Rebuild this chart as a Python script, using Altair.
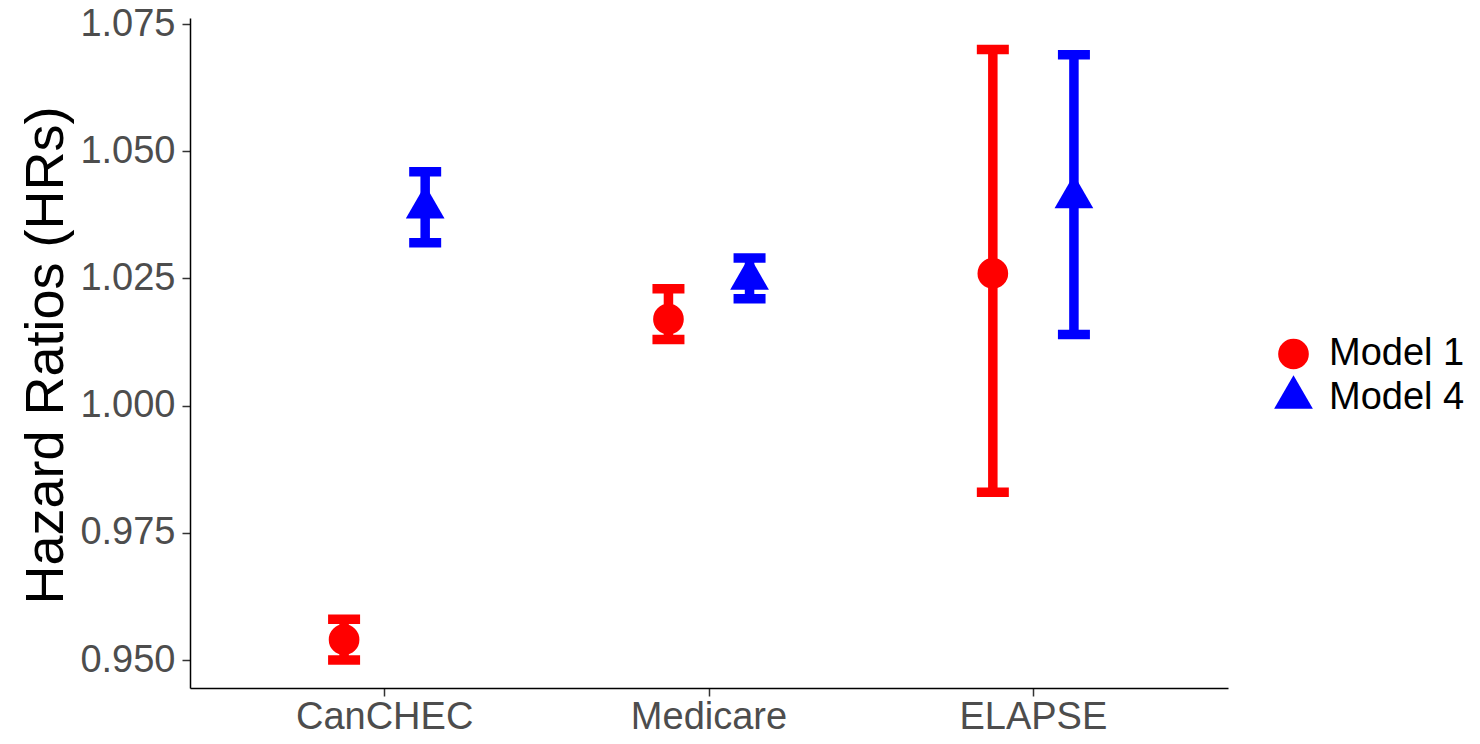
import altair as alt
import pandas as pd

# ---- data ----
studies = ["CanCHEC", "CanCHEC", "Medicare", "Medicare", "ELAPSE", "ELAPSE"]
models = ["Model 1", "Model 4", "Model 1", "Model 4", "Model 1", "Model 4"]
hr = [0.954, 1.039, 1.017, 1.025, 1.026, 1.041]
lower = [0.950, 1.032, 1.013, 1.021, 0.983, 1.014]
upper = [0.958, 1.046, 1.023, 1.029, 1.070, 1.069]

study_order = ["CanCHEC", "Medicare", "ELAPSE"]
model_order = ["Model 1", "Model 4"]
model_colors = ["#FF0000", "#0000FF"]
model_shapes = ["circle", "M0,-1.155L1,0.577L-1,0.577Z"]
model_sizes = [940, 1500]
y_ticks = [0.950, 0.975, 1.000, 1.025, 1.050, 1.075]
y_domain = [0.9445, 1.0762]

df = pd.DataFrame({"study": studies, "model": models, "hr": hr,
                   "lower": lower, "upper": upper})

FONT = "Liberation Sans"

x_enc = alt.X("study:N", sort=study_order,
              scale=alt.Scale(paddingOuter=0.1, paddingInner=0),
              axis=alt.Axis(title=None, labelPadding=2, labelAngle=0))
xoff_enc = alt.XOffset("model:N", sort=model_order,
                       scale=alt.Scale(paddingOuter=1, paddingInner=0))
y_scale = alt.Scale(domain=y_domain, zero=False, nice=False)
y_axis = alt.Axis(title="Hazard Ratios (HRs)", values=y_ticks, format=".3f",
                  labelPadding=7, titleFontSize=54, titleFont=FONT,
                  titleColor="black", titleFontWeight="normal",
                  titleX=-128, titleY=337, titleAngle=270,
                  titleAlign="center", titleBaseline="alphabetic")

base = alt.Chart(df)

layers = []
for m, c in zip(model_order, model_colors):
    sub = base.transform_filter(alt.datum.model == m)
    layers.append(
        sub.mark_rule(strokeWidth=9.5, strokeCap="butt", color=c).encode(
            x=x_enc, xOffset=xoff_enc,
            y=alt.Y("lower:Q", scale=y_scale, axis=y_axis),
            y2="upper:Q",
        )
    )
    for fld in ["lower", "upper"]:
        layers.append(
            sub.mark_tick(size=32, thickness=9.5, opacity=1, filled=True,
                          color=c).encode(
                x=x_enc, xOffset=xoff_enc,
                y=alt.Y(f"{fld}:Q", scale=y_scale, axis=y_axis),
            )
        )

legend = alt.Legend(title=None, orient="none", legendX=1084, legendY=317,
                    labelFontSize=38, labelFont=FONT, labelColor="black",
                    symbolStrokeWidth=0, labelOffset=16,
                    rowPadding=2, symbolOpacity=1)

points = base.mark_point(filled=True, opacity=1, strokeWidth=0).encode(
    x=x_enc, xOffset=xoff_enc,
    y=alt.Y("hr:Q", scale=y_scale, axis=y_axis),
    color=alt.Color("model:N",
                    scale=alt.Scale(domain=model_order, range=model_colors),
                    legend=legend),
    shape=alt.Shape("model:N",
                    scale=alt.Scale(domain=model_order, range=model_shapes),
                    legend=legend),
    size=alt.Size("model:N",
                  scale=alt.Scale(domain=model_order, range=model_sizes),
                  legend=legend),
)
layers.append(points)

chart = alt.layer(*layers).properties(
    width=1038, height=670,
    autosize=alt.AutoSizeParams(type="none"),
    padding={"left": 182, "top": 10, "right": 240, "bottom": 48},
    background="white",
).configure_view(stroke=None).configure_axis(
    grid=False,
    domainColor="black", domainWidth=1.5,
    tickColor="#333333", tickWidth=1.5, tickSize=8,
    labelFont=FONT, labelFontSize=38, labelColor="#4d4d4d",
)

chart.save("out.html", embed_options={"renderer": "svg", "actions": False})
